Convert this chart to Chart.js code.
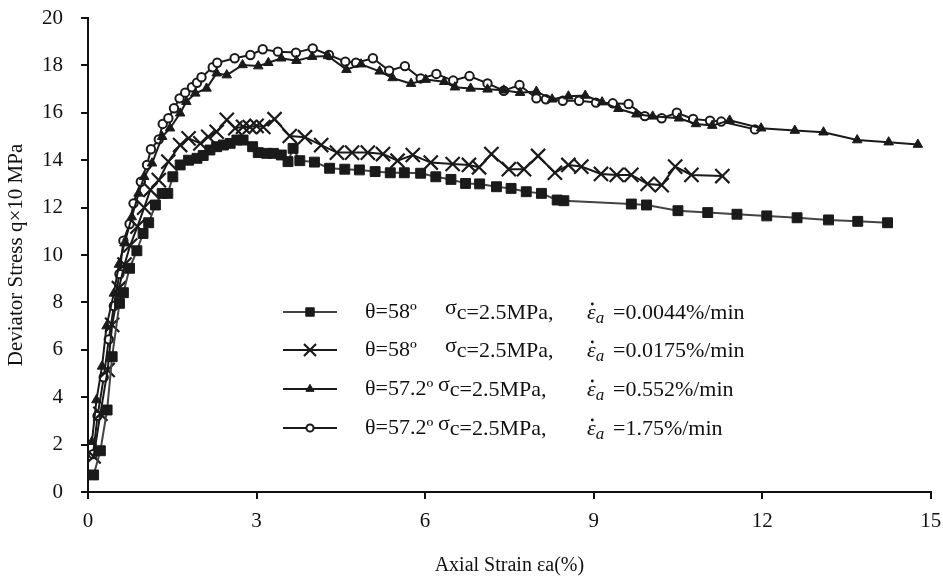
<!DOCTYPE html>
<html>
<head>
<meta charset="utf-8">
<title>Deviator stress vs axial strain</title>
<script src="https://cdn.jsdelivr.net/npm/chart.js@4.4.0/dist/chart.umd.min.js"></script>
<style>
  body { margin: 0; background: #fff; }
</style>
</head>
<body>
<canvas id="stressChart" width="943" height="584"></canvas>
<script>
// axial strain (%) and deviator stress (x10 MPa)
const strainA = [0.10, 0.22, 0.34, 0.43, 0.56, 0.63, 0.74, 0.87, 0.98, 1.08, 1.20, 1.32, 1.42, 1.51, 1.64, 1.79, 1.94, 2.05, 2.17, 2.29, 2.41, 2.53, 2.65, 2.76, 2.93, 3.03, 3.18, 3.30, 3.44, 3.56, 3.65, 3.77, 4.03, 4.30, 4.57, 4.83, 5.11, 5.38, 5.63, 5.92, 6.19, 6.46, 6.72, 6.97, 7.27, 7.53, 7.80, 8.07, 8.35, 8.47, 9.67, 9.94, 10.50, 11.03, 11.55, 12.08, 12.62, 13.18, 13.70, 14.23];
const stressA = [0.72, 1.74, 3.46, 5.71, 7.96, 8.41, 9.44, 10.18, 10.91, 11.36, 12.11, 12.60, 12.60, 13.30, 13.80, 14.00, 14.08, 14.20, 14.43, 14.57, 14.64, 14.71, 14.85, 14.85, 14.57, 14.32, 14.29, 14.29, 14.22, 13.94, 14.50, 13.98, 13.92, 13.66, 13.62, 13.59, 13.52, 13.47, 13.47, 13.45, 13.30, 13.19, 13.02, 13.00, 12.88, 12.81, 12.67, 12.60, 12.32, 12.29, 12.15, 12.11, 11.87, 11.79, 11.72, 11.65, 11.57, 11.48, 11.42, 11.36];

const strainB = [0.10, 0.22, 0.35, 0.43, 0.55, 0.65, 0.75, 0.88, 1.00, 1.11, 1.26, 1.43, 1.64, 1.79, 2.00, 2.14, 2.29, 2.47, 2.62, 2.76, 2.88, 3.00, 3.12, 3.32, 3.59, 3.86, 4.15, 4.43, 4.70, 4.98, 5.25, 5.51, 5.78, 6.10, 6.49, 6.78, 6.96, 7.18, 7.49, 7.76, 8.01, 8.31, 8.55, 8.78, 9.13, 9.41, 9.67, 9.96, 10.21, 10.45, 10.74, 11.29];
const stressB = [1.50, 3.30, 5.15, 7.05, 8.60, 9.60, 10.40, 11.20, 12.00, 12.75, 13.16, 13.94, 14.64, 14.92, 14.71, 14.99, 15.20, 15.70, 15.35, 15.41, 15.40, 15.45, 15.40, 15.73, 15.02, 14.97, 14.64, 14.32, 14.32, 14.32, 14.26, 13.98, 14.22, 13.90, 13.84, 13.80, 13.70, 14.26, 13.62, 13.62, 14.18, 13.47, 13.80, 13.73, 13.42, 13.38, 13.38, 13.00, 12.95, 13.73, 13.38, 13.33];

const strainC = [0.07, 0.15, 0.25, 0.33, 0.46, 0.55, 0.65, 0.78, 0.90, 1.00, 1.14, 1.32, 1.46, 1.64, 1.75, 1.91, 2.11, 2.29, 2.47, 2.75, 3.03, 3.21, 3.44, 3.71, 3.99, 4.27, 4.60, 4.86, 5.19, 5.42, 5.75, 6.01, 6.34, 6.53, 6.81, 7.11, 7.40, 7.69, 7.98, 8.26, 8.55, 8.85, 9.15, 9.44, 9.76, 10.05, 10.52, 10.82, 11.11, 11.42, 11.98, 12.58, 13.09, 13.69, 14.25, 14.77];
const stressC = [2.12, 3.88, 5.30, 7.00, 8.38, 9.60, 10.50, 11.60, 12.60, 13.30, 13.87, 14.99, 15.35, 15.98, 16.47, 16.82, 17.03, 17.67, 17.59, 18.02, 17.97, 18.11, 18.30, 18.20, 18.37, 18.40, 17.82, 18.05, 17.75, 17.47, 17.23, 17.40, 17.31, 17.08, 17.03, 16.99, 16.95, 16.85, 16.90, 16.57, 16.70, 16.73, 16.45, 16.17, 15.94, 15.85, 15.77, 15.53, 15.46, 15.68, 15.35, 15.25, 15.18, 14.85, 14.76, 14.66];

const strainD = [0.09, 0.17, 0.28, 0.37, 0.46, 0.56, 0.63, 0.74, 0.81, 0.94, 1.05, 1.12, 1.26, 1.33, 1.43, 1.53, 1.63, 1.73, 1.85, 1.94, 2.02, 2.22, 2.30, 2.61, 2.89, 3.11, 3.38, 3.70, 4.00, 4.29, 4.58, 4.77, 5.07, 5.36, 5.64, 5.92, 6.20, 6.50, 6.79, 7.11, 7.40, 7.68, 7.98, 8.15, 8.45, 8.74, 9.04, 9.34, 9.62, 9.91, 10.21, 10.48, 10.77, 11.07, 11.27, 11.87];
const stressD = [1.60, 3.21, 4.84, 6.44, 7.85, 9.20, 10.60, 11.31, 12.18, 13.09, 13.80, 14.46, 14.88, 15.53, 15.77, 16.19, 16.61, 16.85, 17.08, 17.27, 17.50, 17.92, 18.11, 18.30, 18.44, 18.68, 18.58, 18.54, 18.72, 18.44, 18.16, 18.11, 18.30, 17.78, 17.97, 17.45, 17.64, 17.36, 17.55, 17.24, 16.93, 17.17, 16.61, 16.57, 16.51, 16.51, 16.43, 16.40, 16.37, 15.86, 15.77, 16.00, 15.74, 15.67, 15.63, 15.30];

const angleLabels = ["θ=58º", "θ=58º", "θ=57.2º", "θ=57.2º"];
const rateLabels = ["0.0044", "0.0175", "0.552", "1.75"];
const xTicks = [0, 3, 6, 9, 12, 15];
const yTicks = [0, 2, 4, 6, 8, 10, 12, 14, 16, 18, 20];

const serif = "'Liberation Serif', 'Times New Roman', serif";

function toPoints(xs, ys) {
  return xs.map((x, i) => ({ x: x, y: ys[i] }));
}

function makeSeries(label, xs, ys, style) {
  return Object.assign({
    label: label,
    data: toPoints(xs, ys),
    borderColor: "#1a1a1a",
    borderWidth: 2,
    pointBorderColor: "#1a1a1a",
    pointBackgroundColor: "#1a1a1a",
    pointBorderWidth: 1,
    tension: 0,
    fill: false
  }, style);
}

const datasets = [
  makeSeries(rateLabels[0], strainA, stressA, { pointStyle: "rect", pointRadius: 7, borderColor: "#444", pointBorderColor: "#1a1a1a" }),
  makeSeries(rateLabels[1], strainB, stressB, { pointStyle: "crossRot", pointRadius: 10, pointBorderWidth: 2.2 }),
  makeSeries(rateLabels[2], strainC, stressC, { pointStyle: "triangle", pointRadius: 5.5 }),
  makeSeries(rateLabels[3], strainD, stressD, { pointStyle: "circle", pointRadius: 4.2, pointBorderWidth: 2, pointBackgroundColor: "#fff" })
];

// legend drawn inside the plot area like the original figure
const insideLegend = {
  id: "insideLegend",
  afterDatasetsDraw(chart) {
    const ctx = chart.ctx;
    const rowsY = [312, 350, 389, 428];
    const sigmaX = [445, 445, 438, 438];
    ctx.save();
    ctx.textBaseline = "middle";
    datasets.forEach((ds, i) => {
      const y = rowsY[i];
      ctx.strokeStyle = ds.borderColor;
      ctx.lineWidth = 2;
      ctx.beginPath();
      ctx.moveTo(283, y);
      ctx.lineTo(337, y);
      ctx.stroke();
      ctx.strokeStyle = ds.pointBorderColor;
      ctx.fillStyle = ds.pointBackgroundColor;
      ctx.lineWidth = ds.pointBorderWidth;
      Chart.helpers.drawPoint(ctx, {
        pointStyle: ds.pointStyle,
        radius: ds.pointRadius * 0.85,
        borderWidth: ds.pointBorderWidth,
        rotation: 0
      }, 310, y);

      ctx.fillStyle = "#111";
      ctx.font = "22px " + serif;
      ctx.fillText(angleLabels[i], 365, y);
      ctx.fillText("σ", sigmaX[i], y - 4);
      const sw = ctx.measureText("σ").width;
      ctx.fillText("c=2.5MPa,", sigmaX[i] + sw, y + 1);

      ctx.font = "italic 22px " + serif;
      ctx.fillText("ε", 587, y + 1);
      const ew = ctx.measureText("ε").width;
      ctx.beginPath();
      ctx.arc(587 + ew / 2 + 1, y - 8, 1.4, 0, Math.PI * 2);
      ctx.fill();
      ctx.font = "italic 17px " + serif;
      ctx.fillText("a", 587 + ew, y + 7);
      ctx.font = "22px " + serif;
      ctx.fillText("=" + rateLabels[i] + "%/min", 613, y + 1);
    });
    ctx.restore();
  }
};

const ctx = document.getElementById("stressChart");

new Chart(ctx, {
  type: "line",
  data: { datasets: datasets },
  plugins: [insideLegend],
  options: {
    responsive: false,
    animation: false,
    devicePixelRatio: 1,
    layout: { padding: { top: 18, right: 10, left: 0, bottom: 0 } },
    plugins: {
      legend: { display: false },
      tooltip: { enabled: false }
    },
    scales: {
      x: {
        type: "linear",
        min: 0,
        max: 15,
        afterBuildTicks: scale => { scale.ticks = xTicks.map(v => ({ value: v })); },
        afterFit: scale => {
          scale.height = 92;
          scale.paddingLeft = 0;
          scale.paddingRight = 0;
        },
        grid: { drawOnChartArea: false, drawTicks: true, tickLength: 7, color: "#111", lineWidth: 2 },
        border: { display: true, color: "#111", width: 2 },
        ticks: { color: "#111", padding: 10, font: { family: serif, size: 21 } },
        title: {
          display: true,
          text: "Axial Strain εa(%)",
          color: "#111",
          font: { family: serif, size: 20 },
          padding: { top: 4, bottom: 6 }
        }
      },
      y: {
        min: 0,
        max: 20,
        afterBuildTicks: scale => { scale.ticks = yTicks.map(v => ({ value: v })); },
        afterFit: scale => {
          scale.width = 88;
          scale.paddingTop = 0;
          scale.paddingBottom = 0;
        },
        grid: { drawOnChartArea: false, drawTicks: true, tickLength: 7, color: "#111", lineWidth: 2 },
        border: { display: true, color: "#111", width: 2 },
        ticks: { color: "#111", padding: 18, font: { family: serif, size: 21 } },
        title: {
          display: true,
          text: "Deviator Stress q×10 MPa",
          color: "#111",
          font: { family: serif, size: 21 },
          padding: { top: 4, bottom: 4 }
        }
      }
    }
  }
});
</script>
</body>
</html>
